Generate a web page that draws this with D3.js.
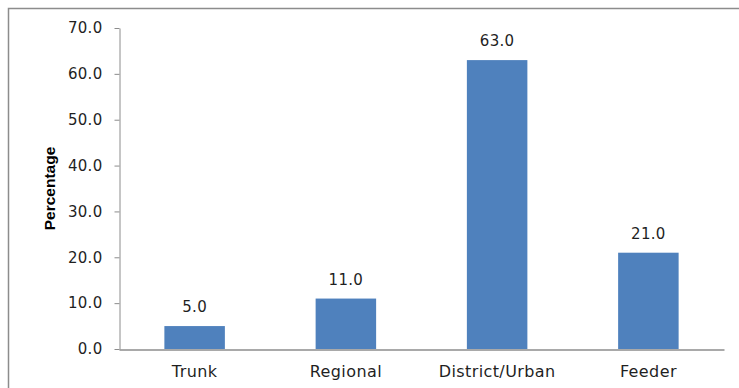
<!DOCTYPE html>
<html>
<head>
<meta charset="utf-8">
<script src="https://cdn.jsdelivr.net/npm/d3@7"></script>
<style>
  html, body { margin: 0; padding: 0; background: #fff; }
  svg { display: block; }
</style>
</head>
<body>
<svg id="chart" width="739" height="388"></svg>
<script>
const categories = ["Trunk", "Regional", "District/Urban", "Feeder"];
const values = [5.0, 11.0, 63.0, 21.0];
const yTicks = [0, 10, 20, 30, 40, 50, 60, 70];
const yTitle = "Percentage";

const svg = d3.select("#chart");
const W = 739, H = 388;
const margin = { left: 119, right: 15, top: 28, bottom: 39 };

// outer frame (right and bottom edges fall outside the view)
svg.append("rect")
  .attr("x", 8.5).attr("y", 8.5)
  .attr("width", W + 10).attr("height", H + 10)
  .attr("fill", "none").attr("stroke", "#8c8c8c").attr("stroke-width", 1.5);

const x = d3.scaleBand()
  .domain(categories)
  .range([margin.left, W - margin.right])
  .paddingInner(0.6).paddingOuter(0.3);

const y = d3.scaleLinear()
  .domain([0, 70])
  .range([H - margin.bottom, margin.top]);

const font = "'DejaVu Sans', Verdana, sans-serif";
const textColor = "#1f1f1f";

// y axis
const yAxis = svg.append("g")
  .attr("transform", `translate(${margin.left + 0.5},0)`)
  .call(d3.axisLeft(y).tickValues(yTicks).tickFormat(d3.format(".1f")).tickSize(5).tickPadding(12).tickSizeOuter(0));
yAxis.select(".domain").attr("stroke", "#8c8c8c");
yAxis.selectAll(".tick line").attr("stroke", "#8c8c8c");
yAxis.selectAll(".tick text")
  .attr("font-family", font).attr("font-size", 15).attr("letter-spacing", 0.3).attr("fill", textColor);

// bars
svg.append("g").selectAll("rect")
  .data(values)
  .join("rect")
  .attr("x", (d, i) => x(categories[i]))
  .attr("y", d => y(d))
  .attr("width", x.bandwidth())
  .attr("height", d => y(0) - y(d))
  .attr("fill", "#4f81bd");

// category axis along the baseline
const xAxis = svg.append("g")
  .attr("transform", `translate(0,${y(0) + 0.5})`)
  .call(d3.axisBottom(x).tickSize(0).tickPadding(16).tickSizeOuter(0));
xAxis.select(".domain").attr("stroke", "#8c8c8c").attr("stroke-width", 1.5);
xAxis.selectAll(".tick text")
  .attr("font-family", font).attr("font-size", 16).attr("letter-spacing", 0.4).attr("fill", textColor);

// value labels
svg.append("g").selectAll("text")
  .data(values)
  .join("text")
  .attr("x", (d, i) => x(categories[i]) + x.bandwidth() / 2)
  .attr("y", d => y(d) - 14)
  .attr("text-anchor", "middle")
  .attr("font-family", font).attr("font-size", 15).attr("letter-spacing", 0.3).attr("fill", textColor)
  .text(d => d3.format(".1f")(d));

// axis title
svg.append("text")
  .attr("transform", `translate(55,${(y(0) + y(70)) / 2}) rotate(-90)`)
  .attr("text-anchor", "middle")
  .attr("font-family", "'Liberation Sans Narrow', 'Liberation Sans', Arial, sans-serif")
  .attr("font-weight", "bold").attr("font-size", 15.5).attr("fill", "#000")
  .text(yTitle);
</script>
</body>
</html>
